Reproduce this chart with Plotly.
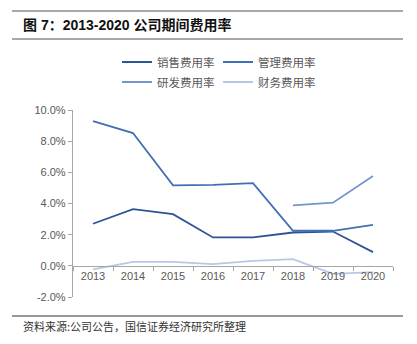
import plotly.graph_objects as go

years = ["2013", "2014", "2015", "2016", "2017", "2018", "2019", "2020"]
sales = [2.70, 3.64, 3.32, 1.82, 1.82, 2.14, 2.20, 0.88]
mgmt = [9.29, 8.52, 5.16, 5.20, 5.31, 2.25, 2.25, 2.63]
rnd = [None, None, None, None, None, 3.88, 4.05, 5.76]
fin = [-0.23, 0.26, 0.26, 0.11, 0.32, 0.43, -0.51, -0.40]
y_ticks = [-2, 0, 2, 4, 6, 8, 10]

W, H = 417, 344
L, R, T, B = 73, 24, 110, 47
PW, PH = W - L - R, H - T - B

def px(x):
    return (x - L) / PW

def py(y):
    return (H - B - y) / PH

fig = go.Figure()
series = [
    ("销售费用率", sales, "#2B5594", "legend"),
    ("管理费用率", mgmt, "#4070B4", "legend"),
    ("研发费用率", rnd, "#7396CC", "legend2"),
    ("财务费用率", fin, "#B7C8E6", "legend2"),
]
for name, vals, col, lg in series:
    fig.add_trace(go.Scatter(x=years, y=vals, name=name, mode="lines",
                             line=dict(color=col, width=1.8),
                             legend=lg, connectgaps=False))

tickfont = dict(family="Liberation Sans, Arial", size=11, color="#595959")
legfont = dict(family="Noto Sans CJK SC", size=11.5, color="#595959")

fig.update_layout(
    width=W, height=H,
    margin=dict(l=L, r=R, t=T, b=B),
    paper_bgcolor="white", plot_bgcolor="white",
    showlegend=True,
    legend=dict(orientation="h", x=px(117), y=py(62), xanchor="left", yanchor="middle",
                font=legfont, itemwidth=30, entrywidth=56, bgcolor="rgba(0,0,0,0)",
                tracegroupgap=0),
    legend2=dict(orientation="h", x=px(117), y=py(82), xanchor="left", yanchor="middle",
                 font=legfont, itemwidth=30, entrywidth=56, bgcolor="rgba(0,0,0,0)",
                 tracegroupgap=0),
    xaxis=dict(type="category", range=[-0.5, len(years) - 0.5], showgrid=False,
               showline=True, linecolor="#A6A6A6",
               linewidth=1.3, ticks="outside", tickson="boundaries", ticklen=4,
               tickcolor="#A6A6A6", tickfont=tickfont, anchor="free",
               position=(0 - (-2)) / 12, zeroline=False),
    yaxis=dict(range=[-2, 10], tickvals=y_ticks,
               ticktext=[f"{v:.1f}%" for v in y_ticks], showgrid=False,
               showline=True, linecolor="#A6A6A6", linewidth=1.3, ticks="outside",
               ticklen=4, tickcolor="#A6A6A6", tickfont=tickfont, zeroline=False),
)

# header lines and footer line
fig.add_shape(type="line", xref="paper", yref="paper", x0=px(12), x1=px(403),
              y0=py(11), y1=py(11), line=dict(color="#8C8C8C", width=1.5))
fig.add_shape(type="line", xref="paper", yref="paper", x0=px(12), x1=px(403),
              y0=py(39), y1=py(39), line=dict(color="#8C8C8C", width=1.5))
fig.add_shape(type="line", xref="paper", yref="paper", x0=px(12), x1=px(403),
              y0=py(316), y1=py(316), line=dict(color="#333333", width=1))

fig.add_annotation(text="<b>图 7：2013-2020 公司期间费用率</b>", xref="paper", yref="paper",
                   x=px(21), y=py(25), xanchor="left", yanchor="middle", showarrow=False,
                   font=dict(family="Liberation Sans, Noto Sans CJK SC", size=14, color="#111111"))
fig.add_annotation(text="资料来源:公司公告，国信证券经济研究所整理", xref="paper", yref="paper",
                   x=px(21), y=py(326), xanchor="left", yanchor="middle", showarrow=False,
                   font=dict(family="Noto Sans CJK SC", size=11, color="#333333"))

fig.write_html("out.html")
